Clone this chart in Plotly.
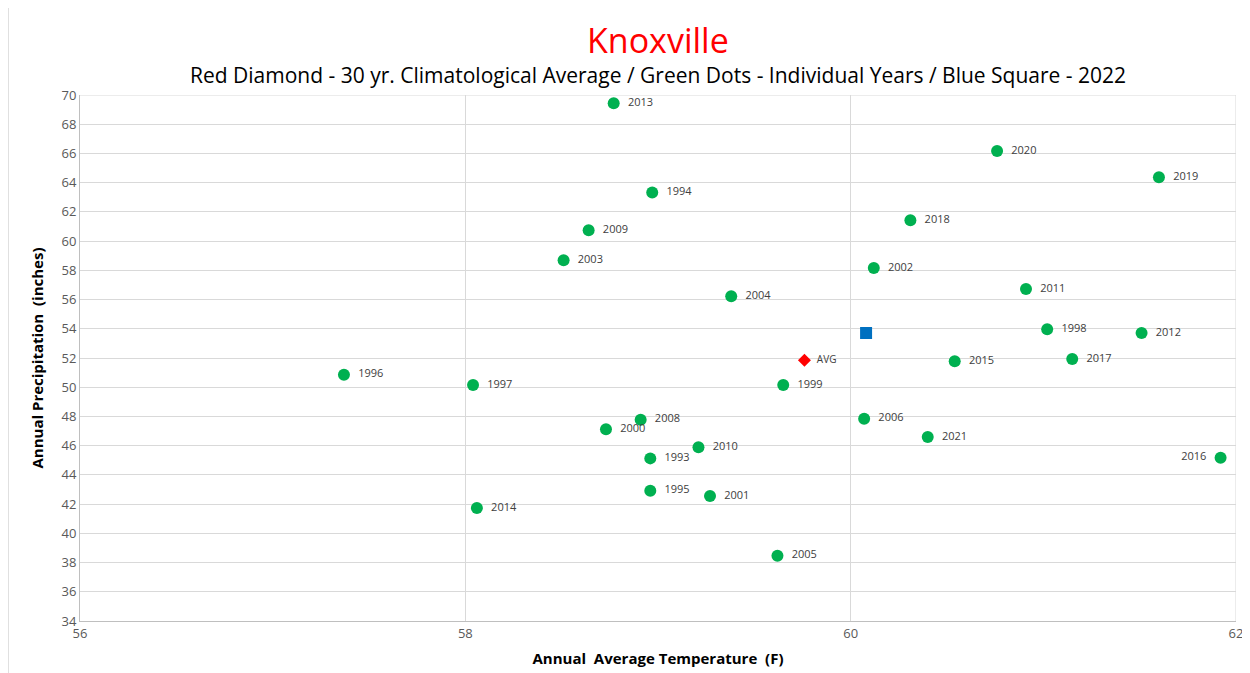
import plotly.graph_objs as go

# annual values, Knoxville
years = ["1993", "1994", "1995", "1996", "1997", "1998", "1999", "2000", "2001", "2002",
         "2003", "2004", "2005", "2006", "2008", "2009", "2010", "2011", "2012", "2013",
         "2014", "2015", "2016", "2017", "2018", "2019", "2020", "2021"]
temps = [58.96, 58.97, 58.96, 57.37, 58.04, 61.02, 59.65, 58.73, 59.27, 60.12,
         58.51, 59.38, 59.62, 60.07, 58.91, 58.64, 59.21, 60.91, 61.51, 58.77,
         58.06, 60.54, 61.92, 61.15, 60.31, 61.60, 60.76, 60.40]
precip = [45.13, 63.32, 42.92, 50.86, 50.15, 53.96, 50.15, 47.12, 42.55, 58.16,
          58.69, 56.22, 38.47, 47.85, 47.78, 60.74, 45.89, 56.72, 53.71, 69.43,
          41.73, 51.77, 45.18, 51.93, 61.42, 64.37, 66.17, 46.59]

avg_temp = [59.76]
avg_precip = [51.84]
cur_temp = [60.08]
cur_precip = [53.71]

label_left = ["2016"]

FONT = "Open Sans"
GRID = "#d9d9d9"
TICK = "#595959"

fig = go.Figure()

# individual years, labels padded a little off the dots
positions = ["middle left" if y in label_left else "middle right" for y in years]
labels = [y + "  " if y in label_left else "  " + y for y in years]
fig.add_trace(go.Scatter(x=temps, y=precip, mode="markers+text", text=labels,
                         textposition=positions,
                         textfont=dict(family=FONT, size=11, color="#404040"),
                         marker=dict(color="#00b050", size=12, symbol="circle"),
                         cliponaxis=False))

# 30 yr average
fig.add_trace(go.Scatter(x=avg_temp, y=avg_precip, mode="markers+text", text=["  AVG"],
                         textposition="middle right",
                         textfont=dict(family=FONT, size=10, color="#404040"),
                         marker=dict(color="#ff0000", size=10, symbol="diamond")))

# 2022
fig.add_trace(go.Scatter(x=cur_temp, y=cur_precip, mode="markers",
                         marker=dict(color="#0070c0", size=12, symbol="square")))

# page body adds 8px around the figure, margins allow for it
fig.update_layout(width=1242, height=665, showlegend=False,
                  margin=dict(l=72, r=14, t=87, b=52),
                  plot_bgcolor="white", paper_bgcolor="white",
                  font=dict(family=FONT),
                  xaxis=dict(range=[56, 62], dtick=2, showgrid=True, gridcolor=GRID,
                             zeroline=False, showline=True, linecolor="#bfbfbf",
                             ticks="", automargin=False,
                             tickfont=dict(size=13, color=TICK),
                             title=dict(text="<b>Annual  Average Temperature  (F)</b>",
                                        font=dict(size=15, color="black"), standoff=12)),
                  yaxis=dict(range=[34, 70], dtick=2, showgrid=True, gridcolor=GRID,
                             zeroline=False, showline=True, linecolor="#bfbfbf",
                             ticks="", automargin=False,
                             tickfont=dict(size=13, color=TICK),
                             title=dict(text="<b>Annual Precipitation  (inches)</b>",
                                        font=dict(size=15, color="black"), standoff=14)))

# right and top border of the plot area
fig.add_shape(type="line", xref="x", yref="y", x0=62, x1=62, y0=34, y1=70,
              line=dict(color=GRID, width=1))
fig.add_shape(type="line", xref="x", yref="y", x0=56, x1=62, y0=70, y1=70,
              line=dict(color=GRID, width=1))
# chart frame edge on the left
fig.add_shape(type="line", xref="paper", yref="paper", x0=-0.062, x1=-0.062, y0=-0.11, y1=1.17,
              line=dict(color=GRID, width=1))

fig.add_annotation(xref="paper", yref="paper", x=0.5, y=1.0, yshift=55, yanchor="middle",
                   showarrow=False, text="Knoxville",
                   font=dict(family=FONT, size=34, color="#ff0000"))
fig.add_annotation(xref="paper", yref="paper", x=0.5, y=1.0, yshift=20, yanchor="middle",
                   showarrow=False,
                   text="Red Diamond - 30 yr. Climatological Average / Green Dots - Individual Years / Blue Square - 2022",
                   font=dict(family=FONT, size=21, color="black"))

fig.write_html("out.html")
